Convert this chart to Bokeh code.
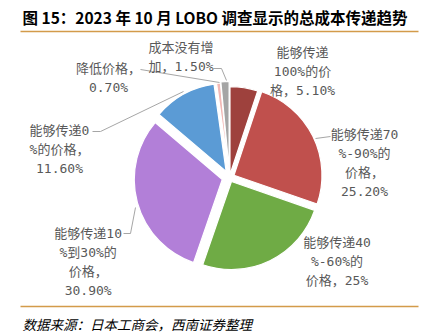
import math
from bokeh.plotting import figure
from bokeh.models import Range1d, ColumnDataSource
from bokeh.core.properties import value
from bokeh.embed import file_html
from bokeh.resources import INLINE

W, H = 430, 335

# ---------------- data ----------------
title_text = "图 15：2023 年 10 月 LOBO 调查显示的总成本传递趋势"
source_text = "数据来源：日本工商会，西南证券整理"

categories = ["能够传递100%的价格", "能够传递70%-90%的价格", "能够传递40%-60%的价格",
              "能够传递10%到30%的价格", "能够传递0%的价格", "降低价格", "成本没有增加"]
shares = [5.10, 25.20, 25.0, 30.90, 11.60, 0.70, 1.50]
colors = ["#9e413d", "#c0504d", "#6fab45", "#b27fd8", "#5b9bd5", "#f2b8b5", "#a5a5a5"]

label_lines = [
    ["能够传递", "100%的价", "格，5.10%"],
    ["能够传递70", "%-90%的", "价格，", "25.20%"],
    ["能够传递40", "%-60%的", "价格，25%"],
    ["能够传递10", "%到30%的", "价格，", "30.90%"],
    ["能够传递0", "%的价格，", "11.60%"],
    ["降低价格，", "0.70%"],
    ["成本没有增", "加，1.50%"],
]

# ---------------- layout (screen px, y downward) ----------------
CX, CY, R = 229, 177, 88
EXPLODE = [3, 5, 4.5, 7.5, 7, 7, 8]
LABEL_POS = [(302, 51.7), (364, 134), (336.5, 241.7), (87.7, 233.3),
             (59, 129.5), (108, 68.3), (180.5, 47)]
LINE_STEP = 19
LEADERS = [
    [(315, 138), (330, 136)],
    [(123, 233), (130, 233), (135, 207)],
    [(92, 131), (100, 131), (183, 91)],
    [(140, 69), (219, 82)],
    [(213, 68), (221, 68), (226, 80)],
]
LABEL_FONT = "DejaVu Sans Mono, Noto Sans CJK SC"

p = figure(width=W, height=H, output_backend="svg", toolbar_location=None,
           x_range=Range1d(0, W), y_range=Range1d(0, H), min_border=0,
           x_axis_location=None, y_axis_location=None)
p.grid.visible = False
p.outline_line_color = None
p.background_fill_color = "white"
p.border_fill_color = "white"

# wedges
total = sum(shares)
xs, ys, sa, ea = [], [], [], []
cum = 0.0
for i, s in enumerate(shares):
    f0 = cum / total
    cum += s
    f1 = cum / total
    a0 = math.pi / 2 - 2 * math.pi * f0
    a1 = math.pi / 2 - 2 * math.pi * f1
    mid = (a0 + a1) / 2
    xs.append(CX + EXPLODE[i] * math.cos(mid))
    ys.append((H - CY) + EXPLODE[i] * math.sin(mid))
    sa.append(a0)
    ea.append(a1)

src = ColumnDataSource(dict(x=xs, y=ys, start=sa, end=ea, color=colors, cat=categories, share=shares))
p.wedge(x="x", y="y", radius=R, start_angle="start", end_angle="end", direction="clock",
        fill_color="color", line_color="white", line_width=1.2, source=src)

# leader lines
for pts in LEADERS:
    p.line([q[0] for q in pts], [H - q[1] for q in pts], line_color="#a6a6a6", line_width=1)

# labels
lx, ly, lt = [], [], []
for (x0, y0), lines in zip(LABEL_POS, label_lines):
    for k, t in enumerate(lines):
        lx.append(x0)
        ly.append(H - (y0 + k * LINE_STEP))
        lt.append(t)
p.text(x=lx, y=ly, text=lt, text_font=value(LABEL_FONT), text_font_size="13px",
       text_color="#595959", text_align="center", text_baseline="middle")

# title and rules
p.text(x=[22], y=[H - 16], text=[title_text], text_font=value("Noto Sans CJK SC"),
       text_font_style="bold", text_font_size="15.5px", text_color="#000000",
       text_align="left", text_baseline="middle")
p.line([20, 418], [H - 31, H - 31], line_color="#d39b4a", line_width=1.5)
p.line([20, 418], [H - 306, H - 306], line_color="#d39b4a", line_width=1.5)
p.text(x=[22], y=[H - 323], text=[source_text], text_font=value("Noto Sans CJK SC"),
       text_font_style="italic", text_font_size="13.5px", text_color="#000000",
       text_align="left", text_baseline="middle")

open("out.html", "w").write(file_html(p, INLINE))
